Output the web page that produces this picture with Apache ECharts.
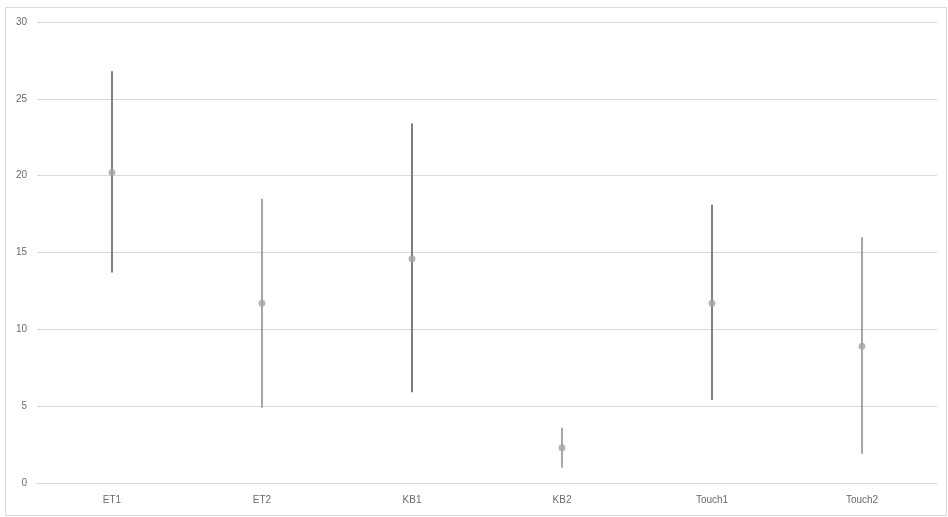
<!DOCTYPE html>
<html>
<head>
<meta charset="utf-8">
<script src="https://cdn.jsdelivr.net/npm/echarts@6/dist/echarts.min.js"></script>
<style>
  html, body { margin: 0; padding: 0; background: #fff; }
  #chart { width: 948px; height: 517px; }
</style>
</head>
<body>
<div id="chart"></div>
<script>
// Categories and their mean / range values
const categories = ['ET1', 'ET2', 'KB1', 'KB2', 'Touch1', 'Touch2'];
const meanValues = [20.2, 11.7, 14.6, 2.3, 11.7, 8.9];
const highValues = [26.8, 18.5, 23.4, 3.6, 18.1, 16.0];
const lowValues  = [13.7, 4.9, 5.9, 1.0, 5.4, 1.9];
const yTicks = [0, 5, 10, 15, 20, 25, 30];

const DARK_LINE = '#7f7f7f';
const LIGHT_LINE = '#a6a6a6';
const MARKER = '#a5a5a5';
const LABEL = '#6b6b6b';

const rangeData = categories.map((c, i) => [i, lowValues[i], highValues[i]]);

const chart = echarts.init(document.getElementById('chart'), null, { renderer: 'canvas' });
chart.setOption({
  animation: false,
  backgroundColor: '#fff',
  graphic: [{
    type: 'rect',
    left: 3, top: 5,
    shape: { width: 941, height: 508 },
    style: { fill: 'none', stroke: '#d9d9d9', lineWidth: 1 },
    silent: true
  }],
  grid: { left: 37, right: 11, top: 22, bottom: 34, containLabel: false },
  xAxis: {
    type: 'category',
    data: categories,
    axisLine: { show: true, lineStyle: { color: '#d9d9d9' } },
    axisTick: { show: false },
    axisLabel: { color: LABEL, fontSize: 10, fontFamily: 'Liberation Sans, Arial', margin: 12 }
  },
  yAxis: {
    type: 'value',
    min: yTicks[0],
    max: yTicks[yTicks.length - 1],
    interval: 5,
    axisLine: { show: false },
    axisTick: { show: false },
    splitLine: { lineStyle: { color: '#d9d9d9', width: 1 } },
    axisLabel: { color: LABEL, fontSize: 10, fontFamily: 'Liberation Sans, Arial', margin: 10 }
  },
  series: [
    {
      type: 'custom',
      data: rangeData,
      renderItem: function (params, api) {
        const idx = api.value(0);
        const lo = api.coord([idx, api.value(1)]);
        const hi = api.coord([idx, api.value(2)]);
        return {
          type: 'line',
          shape: { x1: lo[0], y1: lo[1], x2: hi[0], y2: hi[1] },
          style: { stroke: params.dataIndex % 2 ? LIGHT_LINE : DARK_LINE, lineWidth: 2 }
        };
      },
      encode: { x: 0, y: [1, 2] },
      z: 2
    },
    {
      type: 'scatter',
      data: meanValues,
      symbol: 'circle',
      symbolSize: 7,
      itemStyle: { color: MARKER },
      z: 3
    }
  ]
});
</script>
</body>
</html>
